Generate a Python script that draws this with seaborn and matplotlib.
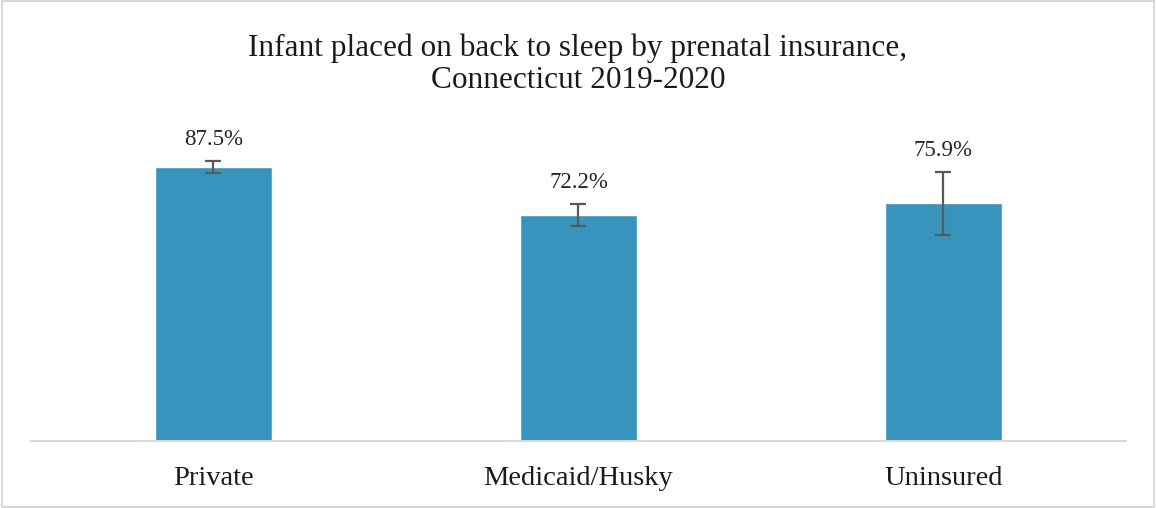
import numpy as np
import pandas as pd
import matplotlib.pyplot as plt
import seaborn as sns
from matplotlib.patches import Rectangle

# chart values
insurance = ['Private', 'Medicaid/Husky', 'Uninsured']
pct = [87.5, 72.2, 75.9]
ci_low = [85.6, 68.8, 65.9]
ci_high = [89.4, 75.6, 85.9]

df = pd.DataFrame({'Insurance': insurance, 'Percent': pct})

sns.set_style('white')
plt.rcParams['font.family'] = ['Liberation Serif', 'DejaVu Serif']

fig = plt.figure(figsize=(11.56, 5.08), dpi=100)
ax = fig.add_axes([0.0268, 0.1319, 0.9472, 0.616])

sns.barplot(x='Insurance', y='Percent', data=df, color='#3795bd',
            saturation=1, width=0.32, errorbar=None, ax=ax)

# error bars from the CI values
centers = [p.get_x() + p.get_width() / 2 for p in ax.patches]
yerr = np.array([np.array(pct) - np.array(ci_low), np.array(ci_high) - np.array(pct)])
ax.errorbar(centers, pct, yerr=yerr, fmt='none', ecolor='#595959',
            elinewidth=1.6, capsize=6, capthick=1.6)

# value labels above the upper CI
for x, v, hi in zip(centers, pct, ci_high):
    ax.annotate(f'{v}%', (x, hi), xytext=(0, 8), textcoords='offset points',
                ha='center', va='bottom', fontsize=16.5, color='#262626',
                annotation_clip=False)

ax.set_ylim(0, 100)
ax.set_xlim(-0.5, 2.5)
ax.set_yticks([])
ax.set_xlabel('')
ax.set_ylabel('')
for s in ['top', 'right', 'left']:
    ax.spines[s].set_visible(False)
ax.spines['bottom'].set_color('#d9d9d9')
ax.spines['bottom'].set_linewidth(1.5)
ax.tick_params(axis='x', length=0, labelsize=20.5, pad=18, colors='#1a1a1a')

fig.text(0.5, 0.935, 'Infant placed on back to sleep by prenatal insurance,\nConnecticut 2019-2020',
         ha='center', va='top', fontsize=22.5, color='#1a1a1a', linespacing=1.18)

# light chart border
fig.patches.append(Rectangle((0.002, 0.002), 0.996, 0.996, transform=fig.transFigure,
                             fill=False, edgecolor='#d9d9d9', linewidth=1.5))

fig.savefig('out.png', dpi=100)
